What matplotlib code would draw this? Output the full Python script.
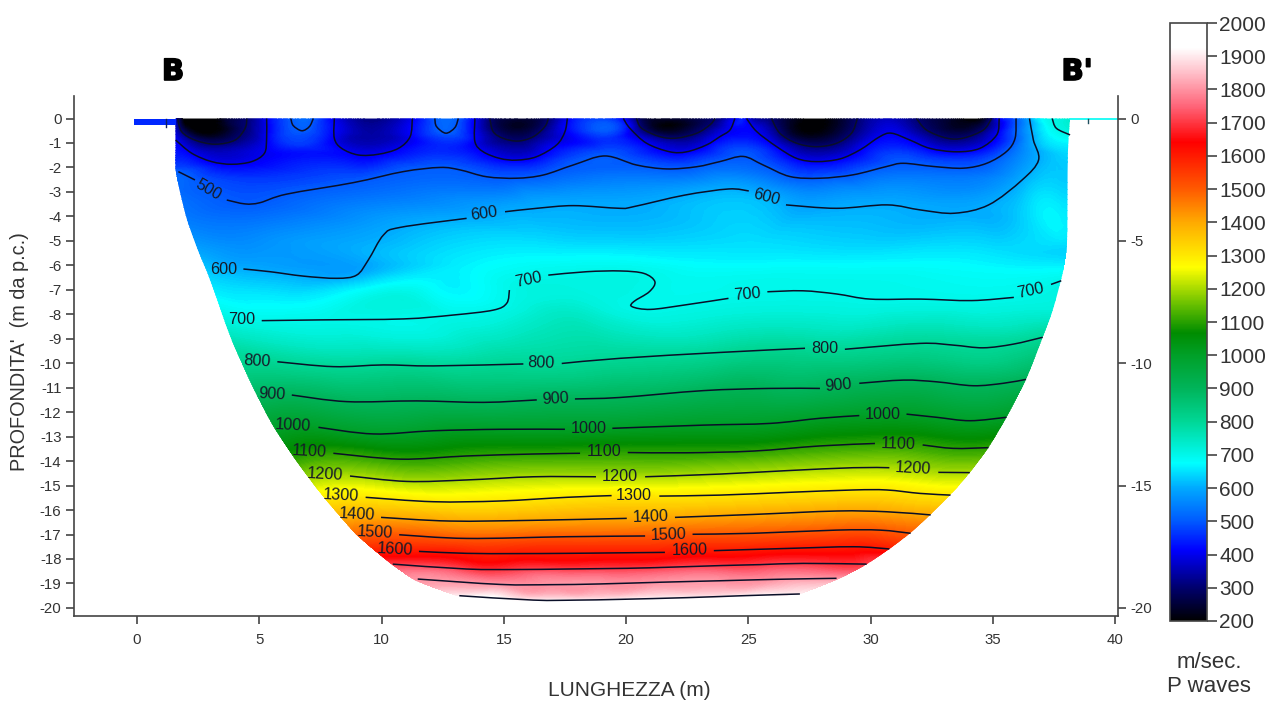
import numpy as np
import pandas as pd
import matplotlib
matplotlib.use('Agg')
import matplotlib.pyplot as plt
import matplotlib.tri as tri
import matplotlib.patheffects as pe
from matplotlib.colors import LinearSegmentedColormap, Normalize
from matplotlib.cm import ScalarMappable
from matplotlib.patches import PathPatch, Rectangle
from matplotlib.path import Path

n = np.nan

x300 = [1.66, 1.83, 2.37, 3.19, 4.01, 4.42, 4.49, n, 14.43, 14.57, 14.98, 15.59, 16.21, 16.68, 16.82, n,
        20.43, 20.64, 21.39, 22.07, 22.89, 23.43, 23.64, n, 25.95, 26.29, 26.98, 27.79, 28.61, 29.22, 29.46, n,
        31.88, 32.29, 33.11, 33.79, 34.61, 34.95]
z300 = [0, -0.54, -0.88, -1.05, -0.88, -0.40, 0, n, 0, -0.54, -0.81, -0.92, -0.74, -0.33, 0, n,
        0, -0.40, -0.74, -0.80, -0.60, -0.26, 0, n, 0, -0.60, -1.01, -1.15, -1.01, -0.60, 0, n,
        0, -0.47, -0.80, -0.80, -0.47, 0]

x400 = [1.58, 2.24, 3.05, 3.87, 4.69, 5.21, 5.30, 5.30, n, 8.07, 8.07, 8.37, 9.05, 9.87, 10.69, 11.17, 11.26, n,
        13.82, 13.82, 14.16, 14.84, 15.52, 16.34, 17.16, 17.50, 17.60, n,
        19.89, 20.16, 20.84, 21.79, 22.48, 23.29, 23.84, 24.25, 24.45, n,
        24.93, 25.34, 26.16, 26.98, 27.79, 28.75, 29.57, 30.38, 30.86, 31.61, 32.43, 33.52, 34.47, 35.16, 35.26]
z400 = [-0.88, -1.42, -1.76, -1.87, -1.76, -1.42, -0.81, 0, n, 0, -0.81, -1.22, -1.49, -1.46, -1.22, -0.74, 0, n,
        0, -0.95, -1.36, -1.63, -1.70, -1.56, -1.08, -0.54, 0, n,
        0, -0.40, -1.01, -1.36, -1.36, -1.08, -0.74, -0.47, 0, n,
        0, -0.53, -1.15, -1.63, -1.76, -1.65, -1.28, -0.74, -0.60, -0.88, -1.22, -1.36, -1.22, -0.67, 0]

x500 = [1.69, 2.37, n, 3.67, 4.42, 5.03, 6.12, 8.85, 10.89, 12.39, 13.21, 14.30, 15.52, 16.61, 17.84, 19.14,
        20.43, 21.66, 22.89, 23.84, 24.79, 25.61, 26.70, 27.93, 29.29, 30.66, 31.34, 32.57, 33.79, 34.75, 35.56,
        35.91, 35.95, n, 6.29, 6.39, 6.74, 7.05, 7.21, n, 12.18, 12.25, 12.63, 13.0, 13.14]
z500 = [-2.17, -2.51, n, -3.33, -3.49, -3.44, -3.09, -2.62, -2.17, -2.00, -2.10, -2.38, -2.44, -2.31, -1.90, -1.53,
        -1.90, -2.06, -1.97, -1.76, -1.55, -1.90, -2.37, -2.44, -2.30, -1.96, -1.83, -1.96, -2.03, -1.83, -1.35,
        -0.81, 0, n, 0, -0.29, -0.50, -0.33, 0, n, 0, -0.33, -0.60, -0.37, 0]

x600 = [4.35, 5.44, 6.80, 8.17, 8.98, 9.46, 10.08, 10.76, 13.48, n, 15.05, 16.35, 17.85, 19.75, 20.32, 22.40, 24.19,
        25.02, n, 26.54, 28.61, 30.68, 32.06, 33.44, 34.83, 36.20, 36.87, 36.66, 36.50]
z600 = [-6.15, -6.26, -6.44, -6.53, -6.40, -5.78, -4.76, -4.45, -4.08, n, -3.81, -3.67, -3.56, -3.67, -3.60, -3.13, -2.88,
        -2.96, n, -3.53, -3.67, -3.53, -3.74, -3.87, -3.53, -2.51, -1.70, -0.88, 0]

x700 = [5.10, 7.48, 10.89, 12.94, 14.57, 15.12, 15.23, n, 16.82, 18.39, 19.77, 20.73, 21.18, 20.95, 20.32, 20.25, 21.0,
        22.40, 24.19, n, 25.78, 27.23, 28.61, 29.99, 32.06, 34.14, 35.86, n, 37.38, 37.80, n, 37.43, 37.60, 38.16]
z700 = [-8.26, -8.23, -8.19, -8.03, -7.83, -7.55, -7.01, n, -6.40, -6.26, -6.23, -6.33, -6.67, -7.08, -7.48, -7.69, -7.80,
        -7.62, -7.35, n, -7.08, -7.04, -7.17, -7.38, -7.38, -7.44, -7.31, n, -6.78, -6.63, n, 0, -0.40, -0.67]

x800 = [5.74, 8.03, 10.08, 12.12, 15.80, n, 17.37, 19.75, 23.84, 27.32, n, 28.95, 32.02, 33.38, 34.61, 35.84, 37.04]
z800 = [-9.94, -10.14, -10.07, -10.11, -10.03, n, -10.01, -9.80, -9.56, -9.39, n, -9.43, -9.19, -9.26, -9.37, -9.22, -8.94]

x900 = [6.33, 8.58, 11.44, 14.17, 16.35, n, 17.91, 19.75, 23.16, 25.88, 27.93, n, 29.54, 31.34, 32.70, 34.20, 35.43, 36.36]
z900 = [-11.30, -11.57, -11.54, -11.60, -11.50, n, -11.46, -11.40, -11.12, -11.03, -11.03, n, -10.82, -10.69, -10.76, -10.92, -10.82, -10.66]

x1000 = [7.42, 9.67, 12.12, 14.85, 17.50, n, 19.44, 23.16, 25.88, 27.93, 29.54, n, 31.47, 32.70, 34.07, 35.56]
z1000 = [-12.62, -12.89, -12.76, -12.70, -12.70, n, -12.66, -12.53, -12.46, -12.25, -12.14, n, -12.08, -12.21, -12.35, -12.21]

x1100 = [8.03, 10.76, 13.48, 16.21, 18.12, n, 20.07, 22.48, 25.20, 27.93, 30.18, n, 32.13, 33.38, 34.82]
z1100 = [-13.68, -13.92, -13.79, -13.71, -13.68, n, -13.65, -13.66, -13.59, -13.38, -13.28, n, -13.34, -13.48, -13.45]

x1200 = [8.71, 11.03, 13.48, 16.21, 18.77, n, 20.78, 23.84, 26.57, 29.29, 30.77, n, 32.77, 34.06]
z1200 = [-14.61, -14.83, -14.77, -14.64, -14.64, n, -14.64, -14.53, -14.39, -14.27, -14.27, n, -14.46, -14.47]

x1300 = [9.35, 12.12, 14.85, 17.57, 19.41, n, 21.36, 23.84, 26.57, 29.29, 30.66, 32.02, 33.27]
z1300 = [-15.48, -15.66, -15.63, -15.48, -15.41, n, -15.43, -15.39, -15.28, -15.18, -15.18, -15.32, -15.39]

x1400 = [9.98, 12.80, 16.21, 20.03, n, 22.0, 25.20, 28.61, 30.66, 32.46]
z1400 = [-16.30, -16.45, -16.42, -16.34, n, -16.30, -16.18, -16.04, -16.07, -16.20]

x1500 = [10.72, 13.48, 17.57, 20.78, n, 22.72, 25.20, 28.61, 30.38, 31.64]
z1500 = [-17.01, -17.16, -17.09, -17.06, n, -16.99, -16.95, -16.82, -16.82, -16.95]

x1600 = [11.53, 13.48, 15.50, 17.57, 19.60, 21.59, n, 23.59, 26.57, 29.29, 30.77]
z1600 = [-17.69, -17.77, -17.78, -17.77, -17.75, -17.73, n, -17.66, -17.57, -17.50, -17.59]

x1700 = [10.46, 13.48, 15.50, 17.57, 19.30, 20.98, 23.84, 25.50, 27.25, 29.84]
z1700 = [-18.21, -18.41, -18.43, -18.41, -18.39, -18.36, -18.27, -18.23, -18.18, -18.21]

x1800 = [11.48, 14.85, 16.90, 18.94, 21.40, 23.84, 26.20, 28.61]
z1800 = [-18.82, -19.04, -19.05, -19.02, -18.95, -18.89, -18.83, -18.79]

x1900 = [13.18, 16.21, 18.00, 19.75, 22.48, 24.80, 27.11]
z1900 = [-19.50, -19.68, -19.68, -19.65, -19.58, -19.50, -19.43]

iso_levels = [300, 400, 500, 600, 700, 800, 900, 1000, 1100, 1200, 1300, 1400, 1500, 1600, 1700, 1800, 1900]
iso_x = [x300, x400, x500, x600, x700, x800, x900, x1000, x1100, x1200, x1300, x1400, x1500, x1600, x1700, x1800, x1900]
iso_z = [z300, z400, z500, z600, z700, z800, z900, z1000, z1100, z1200, z1300, z1400, z1500, z1600, z1700, z1800, z1900]

# outline of the section with the velocity read along it
edge_x = [1.58, 1.58, 1.58, 1.78, 2.05, 2.50, 2.99, 3.87, 4.76, 5.58, 6.53, 7.62, 8.98, 10.40, 11.40, 13.07,
          14.85, 17.5, 20.98, 24.5, 27.11, 28.75, 29.9, 31.61, 33.25, 34.06, 34.82, 35.56, 36.36, 37.04, 37.45, 37.87,
          38.03, 38.07, 38.16]
edge_z = [0, -0.85, -2.1, -3.1, -4.15, -5.4, -6.6, -9.05, -11.03, -12.59, -14.02, -15.46, -17.02, -18.21, -18.89, -19.50,
          -19.72, -19.8, -19.78, -19.65, -19.43, -18.79, -18.18, -16.95, -15.39, -14.47, -13.45, -12.21, -10.66, -8.94, -7.83, -6.26,
          -5.24, -1.42, 0]
edge_v = [350, 400, 490, 520, 540, 590, 640, 760, 870, 990, 1110, 1290, 1490, 1700, 1800, 1900,
          1950, 1980, 1970, 1950, 1900, 1800, 1700, 1500, 1300, 1200, 1100, 1000, 900, 800, 720, 680,
          640, 640, 730]

# spots inside the section where no isoline passes
spot_x = [3.4, 6.74, 9.6, 9.6, 12.63, 15.3, 18.7, 21.9, 24.7, 28.0, 30.7, 33.4, 6.7, 12.7, 18.7, 24.7,
          12, 14, 17, 20, 25, 30, 35, 36, 10, 6, 12, 23, 28, 33, 5, 8, 16.5, 18.5, 18, 25, 31]
spot_z = [0, 0, 0, -0.7, 0, 0, 0, 0, 0, 0, 0, 0, -1.2, -1.2, -0.8, -0.6,
          -5.5, -6.0, -5, -5.3, -5.3, -5.5, -5.5, -4, -7, -7.2, -7, -6, -6, -6, -5, -5, -8, -8, -7, -6.6, -6.7]
spot_v = [210, 520, 310, 340, 520, 250, 470, 240, 430, 200, 360, 230, 445, 445, 450, 415,
          640, 670, 640, 650, 650, 650, 650, 625, 690, 650, 680, 675, 675, 675, 565, 590, 735, 735, 710, 695, 695]

# contour labels
label_text = ['500', '600', '600', '600', '700', '700', '700', '700',
              '800', '800', '800', '900', '900', '900', '1000', '1000', '1000',
              '1100', '1100', '1100', '1200', '1200', '1200', '1300', '1300',
              '1400', '1400', '1500', '1500', '1600', '1600']
label_x = [2.92, 3.56, 14.2, 25.73, 4.29, 16.0, 24.95, 36.56,
           4.92, 16.52, 28.13, 5.51, 17.10, 28.68, 6.39, 18.46, 30.49,
           7.05, 19.10, 31.13, 7.69, 19.73, 31.75, 8.34, 20.3,
           8.98, 21.0, 9.73, 21.73, 10.55, 22.59]
label_z = [-2.92, -6.19, -3.9, -3.22, -8.23, -6.6, -7.17, -7.05,
           -9.90, -9.98, -9.39, -11.26, -11.44, -10.89, -12.55, -12.66, -12.08,
           -13.62, -13.62, -13.30, -14.53, -14.61, -14.32, -15.40, -15.40,
           -16.20, -16.27, -16.93, -17.00, -17.61, -17.66]
label_rot = [-30, 0, 8, -15, 0, 12, 5, 12,
             -3, -2, 0, -3, 3, 5, -3, 0, 0,
             -3, 0, -2, -3, 0, -3, -3, 0,
             -3, 2, -3, 2, -3, 1]

cmap_values = [200, 300, 413, 500, 600, 675, 800, 900, 1000, 1067, 1150, 1265, 1400, 1500, 1642, 1750, 1850, 1927, 2000]
cmap_colors = ['#000000', '#00006e', '#0000ff', '#005aff', '#00aaff', '#00ffff', '#00d796', '#00b45a', '#00a028',
               '#008c00', '#64be00', '#ffff00', '#ffaa00', '#ff5a00', '#ff0000', '#ff6478', '#ffbec8', '#ffffff', '#ffffff']


def smooth_path(xs, zs, close=False):
    # bezier path through the read points, nan starts a new piece
    verts, codes = [], []
    xs = np.asarray(xs, float)
    zs = np.asarray(zs, float)
    breaks = np.where(np.isnan(xs))[0]
    for piece in np.split(np.arange(len(xs)), breaks):
        piece = piece[~np.isnan(xs[piece])]
        p = np.column_stack([xs[piece], zs[piece]])
        verts.append(p[0])
        codes.append(Path.MOVETO)
        for i in range(len(p) - 1):
            before = p[max(i - 1, 0)]
            after = p[min(i + 2, len(p) - 1)]
            verts += [p[i] + (p[i + 1] - before) / 6, p[i + 1] - (after - p[i]) / 6, p[i + 1]]
            codes += [Path.CURVE4] * 3
    if close:
        verts.append(verts[0])
        codes.append(Path.LINETO)
    return Path(verts, codes)


plt.rcParams['font.family'] = ['Liberation Sans', 'DejaVu Sans']
plt.rcParams['axes.unicode_minus'] = False

cmap = LinearSegmentedColormap.from_list('pwaves', [((v - 200) / 1800, c) for v, c in zip(cmap_values, cmap_colors)], N=720)
norm = Normalize(200, 2000)

# all read values together, for the colour field
rows = []
for level, xs, zs in zip(iso_levels, iso_x, iso_z):
    rows.append(pd.DataFrame({'x': xs, 'z': zs, 'v': level}))
rows.append(pd.DataFrame({'x': edge_x, 'z': edge_z, 'v': edge_v}))
rows.append(pd.DataFrame({'x': spot_x, 'z': spot_z, 'v': spot_v}))
df = pd.concat(rows).dropna().drop_duplicates(subset=['x', 'z'])

fig = plt.figure(figsize=(12.71, 7.02), dpi=100)
ax = fig.add_axes([74 / 1271, 86 / 702, 1044 / 1271, 520 / 702])
ax.set_xlim(-2.577, 40.12)
ax.set_ylim(-20.33, 0.92)

# triangles stretched in depth so they join neighbouring isolines, not points along one line
squeezed = tri.Triangulation(df['x'].values, df['z'].values * 5)
triang = tri.Triangulation(df['x'].values, df['z'].values, squeezed.triangles)
refiner = tri.UniformTriRefiner(triang)
fine_tri, fine_v = refiner.refine_field(df['v'].values.astype(float), subdiv=3)
cs = ax.tricontourf(fine_tri, np.clip(fine_v, 200, 2000), levels=np.arange(200, 2001, 5), cmap=cmap, norm=norm, extend='both')
outline = PathPatch(smooth_path(edge_x, edge_z, close=True), transform=ax.transData, fc='none', ec='none')
ax.add_patch(outline)
cs.set_clip_path(outline)

# strip of the surface line left and right of the section
ax.add_patch(Rectangle((-0.12, -0.28), 1.72, 0.28, fc=cmap(norm(450)), ec='none'))
ax.plot([38.16, 40.12], [0, 0], color=cmap(norm(690)), lw=1.2)
ax.plot([1.2, 1.2], [0, -0.35], color='#102060', lw=1)
ax.plot([38.9, 38.9], [0, -0.2], color='#205060', lw=1)

for xs, zs in zip(iso_x, iso_z):
    ax.add_patch(PathPatch(smooth_path(xs, zs), fc='none', ec='#0a0f28', lw=1.1))

for t, lx, lz, r in zip(label_text, label_x, label_z, label_rot):
    ax.text(lx, lz, t, fontsize=11.7, color='#151a28', rotation=r, rotation_mode='anchor',
            ha='center', va='center')

for s in ['left', 'bottom', 'right']:
    ax.spines[s].set_color('#444444')
    ax.spines[s].set_linewidth(1.2)
ax.spines['top'].set_visible(False)
ax.set_xticks(np.arange(0, 41, 5))
ax.set_yticks(np.arange(0, -21, -1))
ax.tick_params(colors='#444444', labelcolor='#333333', labelsize=10.8, length=6, width=1.2, pad=3)
ax.tick_params(axis='x', pad=6)
ax.set_xlabel('LUNGHEZZA (m)', fontsize=15, color='#333333', va='center')
ax.xaxis.set_label_coords((629 - 74) / 1044, -(691 - 616) / 520, transform=ax.transAxes)
ax.set_ylabel("PROFONDITA'  (m da p.c.)", fontsize=14.3, color='#333333', va='center')
ax.yaxis.set_label_coords((20 - 74) / 1044, (616 - 352) / 520, transform=ax.transAxes)

ax2 = ax.twinx()
ax2.set_ylim(ax.get_ylim())
ax2.set_yticks(np.arange(0, -21, -5))
ax2.tick_params(colors='#444444', labelcolor='#333333', labelsize=10.8, length=6, width=1.2, pad=3)
for s in ax2.spines.values():
    s.set_visible(False)

# velocity scale
cax = fig.add_axes([1170 / 1271, (702 - 621) / 702, 37 / 1271, 598 / 702])
cb = fig.colorbar(ScalarMappable(norm=norm, cmap=cmap), cax=cax)
cb.set_ticks(np.arange(200, 2001, 100))
cb.ax.tick_params(labelsize=15, labelcolor='#333333', color='#444444', length=7, width=1.2, pad=2)
cb.outline.set_edgecolor('#444444')
cb.outline.set_linewidth(1.2)

fig.text(1209 / 1271, (702 - 663) / 702, 'm/sec.', fontsize=16, color='#333333', ha='center', va='center')
fig.text(1209 / 1271, (702 - 686) / 702, 'P waves', fontsize=16, color='#333333', ha='center', va='center')
stroke = [pe.withStroke(linewidth=1.2, foreground='black')]
fig.text(173 / 1271, (702 - 72) / 702, 'B', fontsize=21, fontweight='bold', family='DejaVu Sans', ha='center', va='center', path_effects=stroke)
fig.text(1077 / 1271, (702 - 72) / 702, "B'", fontsize=21, fontweight='bold', family='DejaVu Sans', ha='center', va='center', path_effects=stroke)

fig.savefig('out.png', dpi=100)
